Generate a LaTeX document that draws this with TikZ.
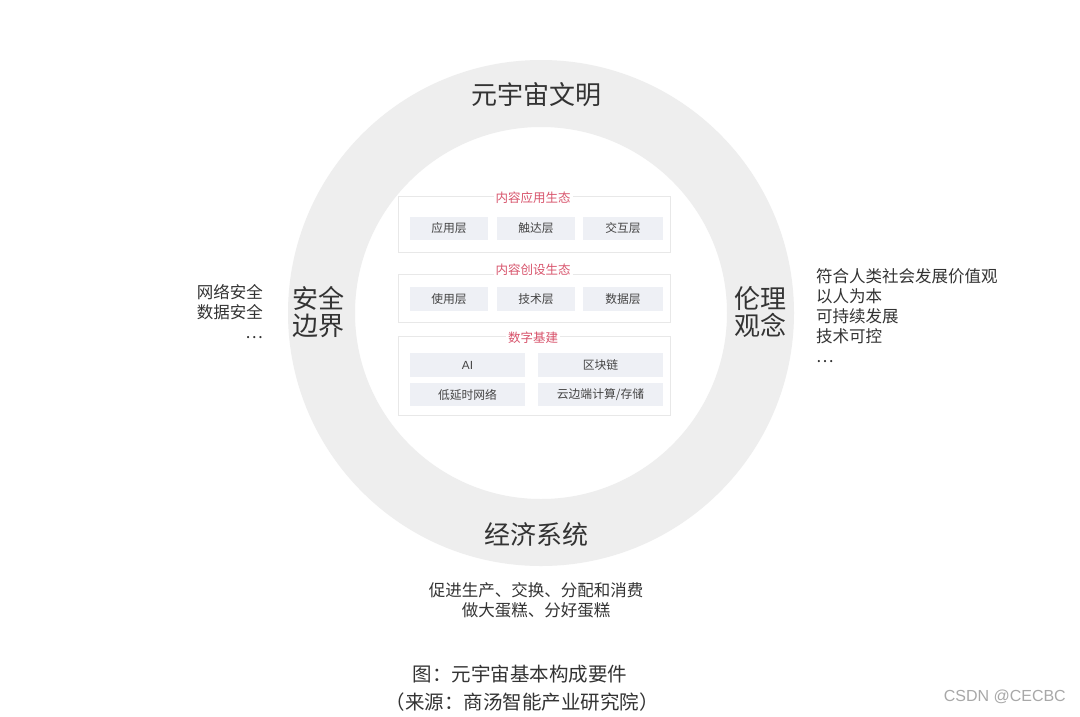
\documentclass[tikz,border=0pt]{standalone}
\usepackage{fontspec}
\setmainfont{Noto Sans CJK SC}
\newfontfamily\latinsans{Liberation Sans}
\definecolor{ringgray}{HTML}{EEEEEE}
\definecolor{boxgray}{HTML}{EEF0F5}
\definecolor{panelline}{HTML}{E8E8E8}
\definecolor{titlered}{HTML}{D8546C}
\definecolor{txt}{HTML}{333333}
\definecolor{boxtxt}{HTML}{444444}
\definecolor{wm}{HTML}{A8A8A8}
\begin{document}
\begin{tikzpicture}[x=1pt,y=-1pt,
  big/.style={font=\fontsize{26}{30}\selectfont, text=txt, inner sep=0pt, align=center},
  list/.style={font=\fontsize{16.5}{20}\selectfont, text=txt, inner sep=0pt},
  captext/.style={font=\fontsize{19.5}{22}\selectfont, text=txt, inner sep=0pt},
  panel/.style={draw=panelline, line width=0.8pt, fill=white},
  ptitle/.style={font=\fontsize{12.5}{14}\selectfont, text=titlered, fill=white, inner sep=2pt},
  layerbox/.style={fill=boxgray, draw=none, font=\fontsize{11.8}{14}\selectfont, text=boxtxt, inner sep=0pt, anchor=center}
]
\useasboundingbox (0,0) rectangle (1080,716);
\fill[white] (0,0) rectangle (1080,716);
% ring
\fill[ringgray, even odd rule] (541,313) circle (253) (541,313) circle (186);

% ring labels
\node[big] (top) at (536,95) {元宇宙文明};
\node[big] (bottom) at (536,535) {经济系统};
\node[big] (left) at (318,312) {安全\\[-3pt]边界};
\node[big] (right) at (760,312) {伦理\\[-3pt]观念};

% side lists
\node[list, anchor=east, align=right] (leftlist) at (263,312) {网络安全\\数据安全\\…};
\node[list, anchor=west, align=left] (rightlist) at (816,316) {符合人类社会发展价值观\\以人为本\\可持续发展\\技术可控\\…};

% bottom text
\node[list, align=center] (econ) at (536,600) {促进生产、交换、分配和消费\\做大蛋糕、分好蛋糕};

% caption
\node[captext] (cap1) at (520,674) {图：元宇宙基本构成要件};
\node[captext] (cap2) at (522,702) {（来源：商汤智能产业研究院）};
\node[font=\latinsans\fontsize{16}{18}\selectfont, text=wm, inner sep=0pt, anchor=east] (wmark) at (1066,697) {CSDN @CECBC};

% panel 1
\draw[panel] (398,196) rectangle (670,252);
\node[ptitle] (t1) at (533,198) {内容应用生态};
\node[layerbox, minimum width=78pt, minimum height=23pt] (b11) at (449,228.5) {应用层};
\node[layerbox, minimum width=78pt, minimum height=23pt] (b12) at (536,228.5) {触达层};
\node[layerbox, minimum width=80pt, minimum height=23pt] (b13) at (623,228.5) {交互层};

% panel 2
\draw[panel] (398,274) rectangle (670,322);
\node[ptitle] (t2) at (533,270) {内容创设生态};
\node[layerbox, minimum width=78pt, minimum height=24pt] (b21) at (449,299) {使用层};
\node[layerbox, minimum width=78pt, minimum height=24pt] (b22) at (536,299) {技术层};
\node[layerbox, minimum width=80pt, minimum height=24pt] (b23) at (623,299) {数据层};

% panel 3
\draw[panel] (398,336) rectangle (670,415);
\node[ptitle] (t3) at (533,338) {数字基建};
\node[layerbox, minimum width=115pt, minimum height=24pt] (b31) at (467.5,365) {\latinsans AI};
\node[layerbox, minimum width=125pt, minimum height=24pt] (b32) at (600.5,365) {区块链};
\node[layerbox, minimum width=115pt, minimum height=23pt] (b33) at (467.5,394.5) {低延时网络};
\node[layerbox, minimum width=125pt, minimum height=23pt] (b34) at (600.5,394.5) {云边端计算/存储};
\end{tikzpicture}
\end{document}
